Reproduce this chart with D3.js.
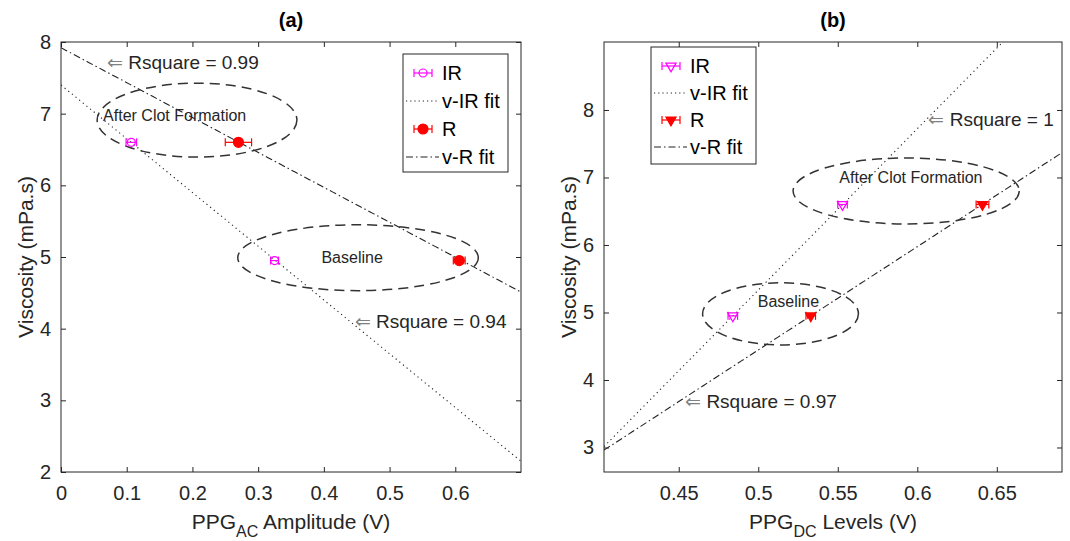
<!DOCTYPE html>
<html><head><meta charset="utf-8">
<script src="https://cdn.jsdelivr.net/npm/d3@7"></script>
<style>body{margin:0;background:#fff}svg{display:block}text{font-family:"Liberation Sans",Arial,sans-serif}</style>
</head><body><svg id="c" width="1070" height="541"></svg>
<script>
// ---- data ----
const states = ["Baseline", "After Clot Formation"];
const viscosity = [4.95, 6.6];
const acIR = [0.325, 0.107];
const acIRErr = [0.006, 0.008];
const acR = [0.606, 0.27];
const acRErr = [0.009, 0.02];
const dcIR = [0.484, 0.553];
const dcIRErr = [0.003, 0.003];
const dcR = [0.533, 0.641];
const dcRErr = [0.003, 0.004];
// linear fits: [intercept, slope]
const acFitIR = [7.4, -7.5];
const acFitR = [7.92, -4.87];
const dcFitIR = [-6.618, 23.9];
const dcFitR = [-3.205, 15.3];
const acXTicks = [0, 0.1, 0.2, 0.3, 0.4, 0.5, 0.6];
const acYTicks = [2, 3, 4, 5, 6, 7, 8];
const dcXTicks = [0.45, 0.5, 0.55, 0.6, 0.65];
const dcYTicks = [3, 4, 5, 6, 7, 8];
const legendLabels = ["IR", "v-IR fit", "R", "v-R fit"];
// ellipses [cx, cy, rx, ry] in data units
const acEllipses = [[0.452, 4.99, 0.183, 0.46], [0.207, 6.91, 0.152, 0.516]];
const dcEllipses = [[0.514, 4.98, 0.049, 0.46], [0.593, 6.8, 0.0711, 0.489]];
const acEllLabels = [[0.443, 5.0], [0.173, 6.97]];
const dcEllLabels = [[0.519, 5.16], [0.596, 7.0]];
const acRsq = [["Rsquare = 0.99", 0.070, 7.72], ["Rsquare = 0.94", 0.447, 4.11]];
const dcRsq = [["Rsquare = 1", 0.607, 7.86], ["Rsquare = 0.97", 0.454, 3.69]];

const AX = "#262626", MAG = "#ff00ff", RED = "#ff0000";
const svg = d3.select("#c");

function panel(cfg) {
  const x = d3.scaleLinear().domain(cfg.xdom).range([cfg.x0, cfg.x1]);
  const y = d3.scaleLinear().domain(cfg.ydom).range([cfg.y1, cfg.y0]);
  const g = svg.append("g");
  const clipId = "clip" + cfg.id;
  svg.append("clipPath").attr("id", clipId).append("rect")
    .attr("x", cfg.x0).attr("y", cfg.y0).attr("width", cfg.x1 - cfg.x0).attr("height", cfg.y1 - cfg.y0);
  const plot = g.append("g").attr("clip-path", `url(#${clipId})`);

  // axes (ticks inward, box)
  const tl = 5;
  const bx = g.append("g").attr("transform", `translate(0,${cfg.y1})`)
    .call(d3.axisBottom(x).tickValues(cfg.xt).tickSize(-tl).tickPadding(14).tickFormat(d3.format("")));
  const tx = g.append("g").attr("transform", `translate(0,${cfg.y0})`)
    .call(d3.axisTop(x).tickValues(cfg.xt).tickSize(-tl).tickFormat(""));
  const ly = g.append("g").attr("transform", `translate(${cfg.x0},0)`)
    .call(d3.axisLeft(y).tickValues(cfg.yt).tickSize(-tl).tickPadding(10).tickFormat(d3.format("")));
  const ry = g.append("g").attr("transform", `translate(${cfg.x1},0)`)
    .call(d3.axisRight(y).tickValues(cfg.yt).tickSize(-tl).tickFormat(""));
  [bx, tx, ly, ry].forEach(a => {
    a.selectAll(".domain").remove();
    a.selectAll("line").attr("stroke", AX);
    a.selectAll("text").attr("fill", AX).style("font-size", "20px").attr("font-family", '"Liberation Sans",Arial,sans-serif');
  });
  g.append("rect").attr("x", cfg.x0).attr("y", cfg.y0).attr("width", cfg.x1 - cfg.x0).attr("height", cfg.y1 - cfg.y0)
    .attr("fill", "none").attr("stroke", AX).attr("stroke-width", 1);

  // fit lines
  const xs = d3.range(0, 101).map(i => cfg.xdom[0] + (cfg.xdom[1] - cfg.xdom[0]) * i / 100);
  const line = f => d3.line().x(d => x(d)).y(d => y(f[0] + f[1] * d))(xs);
  plot.append("path").attr("d", line(cfg.fitIR)).attr("fill", "none").attr("stroke", "#222").attr("stroke-width", 1.1).attr("stroke-dasharray", "1.2,3.5");
  plot.append("path").attr("d", line(cfg.fitR)).attr("fill", "none").attr("stroke", "#222").attr("stroke-width", 1.1).attr("stroke-dasharray", "7,3,1.5,3");

  // ellipses
  cfg.ell.forEach(e => {
    plot.append("ellipse").attr("cx", x(e[0])).attr("cy", y(e[1]))
      .attr("rx", x(e[0] + e[2]) - x(e[0])).attr("ry", y(e[1]) - y(e[1] + e[3]))
      .attr("fill", "none").attr("stroke", "#333").attr("stroke-width", 1.5).attr("stroke-dasharray", "10,6");
  });
  cfg.ellLab.forEach((p, i) => {
    g.append("text").attr("x", x(p[0])).attr("y", y(p[1])).attr("text-anchor", "middle").attr("dominant-baseline", "central")
      .attr("fill", AX).style("font-size", "16px").text(states[i]);
  });

  // error bars + markers
  const drawPt = (px, py, err, color, kind, fill) => {
    const xa = x(px - err), xb = x(px + err), yy = y(py);
    plot.append("line").attr("x1", xa).attr("x2", xb).attr("y1", yy).attr("y2", yy).attr("stroke", color).attr("stroke-width", 1.2);
    [xa, xb].forEach(xv => plot.append("line").attr("x1", xv).attr("x2", xv).attr("y1", yy - 4).attr("y2", yy + 4).attr("stroke", color).attr("stroke-width", 1.2));
    marker(plot, x(px), yy, color, kind, fill);
  };
  viscosity.forEach((v, i) => {
    drawPt(cfg.ir[i], v, cfg.irErr[i], MAG, cfg.kind, false);
    drawPt(cfg.r[i], v, cfg.rErr[i], RED, cfg.kind, true);
  });

  // Rsquare annotations
  cfg.rsq.forEach(r => {
    const t = g.append("text").attr("x", x(r[1])).attr("y", y(r[2])).attr("dominant-baseline", "central").style("font-size", "19px").attr("fill", AX);
    t.append("tspan").attr("fill", "#808080").text("\u21D0 ");
    t.append("tspan").text(r[0]);
  });

  // legend
  const L = cfg.leg;
  const lg = g.append("g");
  lg.append("rect").attr("x", L.x).attr("y", L.y).attr("width", L.w).attr("height", L.h).attr("fill", "#fff").attr("stroke", AX);
  legendLabels.forEach((lab, i) => {
    const yy = L.y + L.first + i * L.step;
    const mx = L.x + 20;
    if (i === 0 || i === 2) {
      const col = i === 0 ? MAG : RED;
      lg.append("line").attr("x1", mx - 9).attr("x2", mx + 9).attr("y1", yy).attr("y2", yy).attr("stroke", col).attr("stroke-width", 1.2);
      [mx - 9, mx + 9].forEach(xv => lg.append("line").attr("x1", xv).attr("x2", xv).attr("y1", yy - 4).attr("y2", yy + 4).attr("stroke", col).attr("stroke-width", 1.2));
      marker(lg, mx, yy, col, cfg.kind, i === 2);
    } else {
      lg.append("line").attr("x1", L.x + 3).attr("x2", L.x + 36).attr("y1", yy).attr("y2", yy).attr("stroke", "#222").attr("stroke-width", 1.1)
        .attr("stroke-dasharray", i === 1 ? "1.2,3" : "7,3,1.5,3");
    }
    lg.append("text").attr("x", L.x + 39).attr("y", yy).attr("dominant-baseline", "central").style("font-size", "20px").attr("fill", "#000").text(lab);
  });

  // title + axis labels
  const cx = (cfg.x0 + cfg.x1) / 2;
  g.append("text").attr("x", cx).attr("y", 27).attr("text-anchor", "middle").style("font-size", "20px").style("font-weight", "bold").attr("fill", "#000").text(cfg.title);
  const xl = g.append("text").attr("x", cx).attr("y", 529).attr("text-anchor", "middle").style("font-size", "21px").attr("fill", AX);
  xl.append("tspan").text("PPG");
  xl.append("tspan").attr("dy", 8).style("font-size", "16px").text(cfg.sub);
  xl.append("tspan").attr("dy", -8).text(cfg.xlab);
  g.append("text").attr("transform", `translate(${cfg.x0 - 28},${(cfg.y0 + cfg.y1) / 2}) rotate(-90)`)
    .attr("text-anchor", "middle").style("font-size", "21px").attr("fill", AX).text("Viscosity (mPa.s)");
}

function marker(sel, cx, cy, color, kind, fill) {
  if (kind === "circle") {
    sel.append("circle").attr("cx", cx).attr("cy", cy).attr("r", fill ? 5 : 4)
      .attr("fill", fill ? color : "none").attr("stroke", color).attr("stroke-width", 1.2);
  } else {
    sel.append("path").attr("d", d3.symbol(d3.symbolTriangle, 45)())
      .attr("transform", `translate(${cx},${cy}) rotate(180)`)
      .attr("fill", fill ? color : "none").attr("stroke", color).attr("stroke-width", 1.2);
  }
}

panel({id: "a", x0: 61, x1: 521, y0: 42, y1: 472, xdom: [0, 0.7], ydom: [2, 8], xt: acXTicks, yt: acYTicks,
  fitIR: acFitIR, fitR: acFitR, ell: acEllipses, ellLab: acEllLabels, ir: acIR, irErr: acIRErr, r: acR, rErr: acRErr,
  kind: "circle", rsq: acRsq, leg: {x: 403, y: 54, w: 105, h: 118, first: 19, step: 28}, title: "(a)", sub: "AC", xlab: " Amplitude (V)"});
panel({id: "b", x0: 604, x1: 1062, y0: 42, y1: 472, xdom: [0.403, 0.691], ydom: [2.637, 9.007], xt: dcXTicks, yt: dcYTicks,
  fitIR: dcFitIR, fitR: dcFitR, ell: dcEllipses, ellLab: dcEllLabels, ir: dcIR, irErr: dcIRErr, r: dcR, rErr: dcRErr,
  kind: "triangle", rsq: dcRsq, leg: {x: 651, y: 47, w: 105, h: 117, first: 19, step: 27}, title: "(b)", sub: "DC", xlab: " Levels (V)"});
</script></body></html>
